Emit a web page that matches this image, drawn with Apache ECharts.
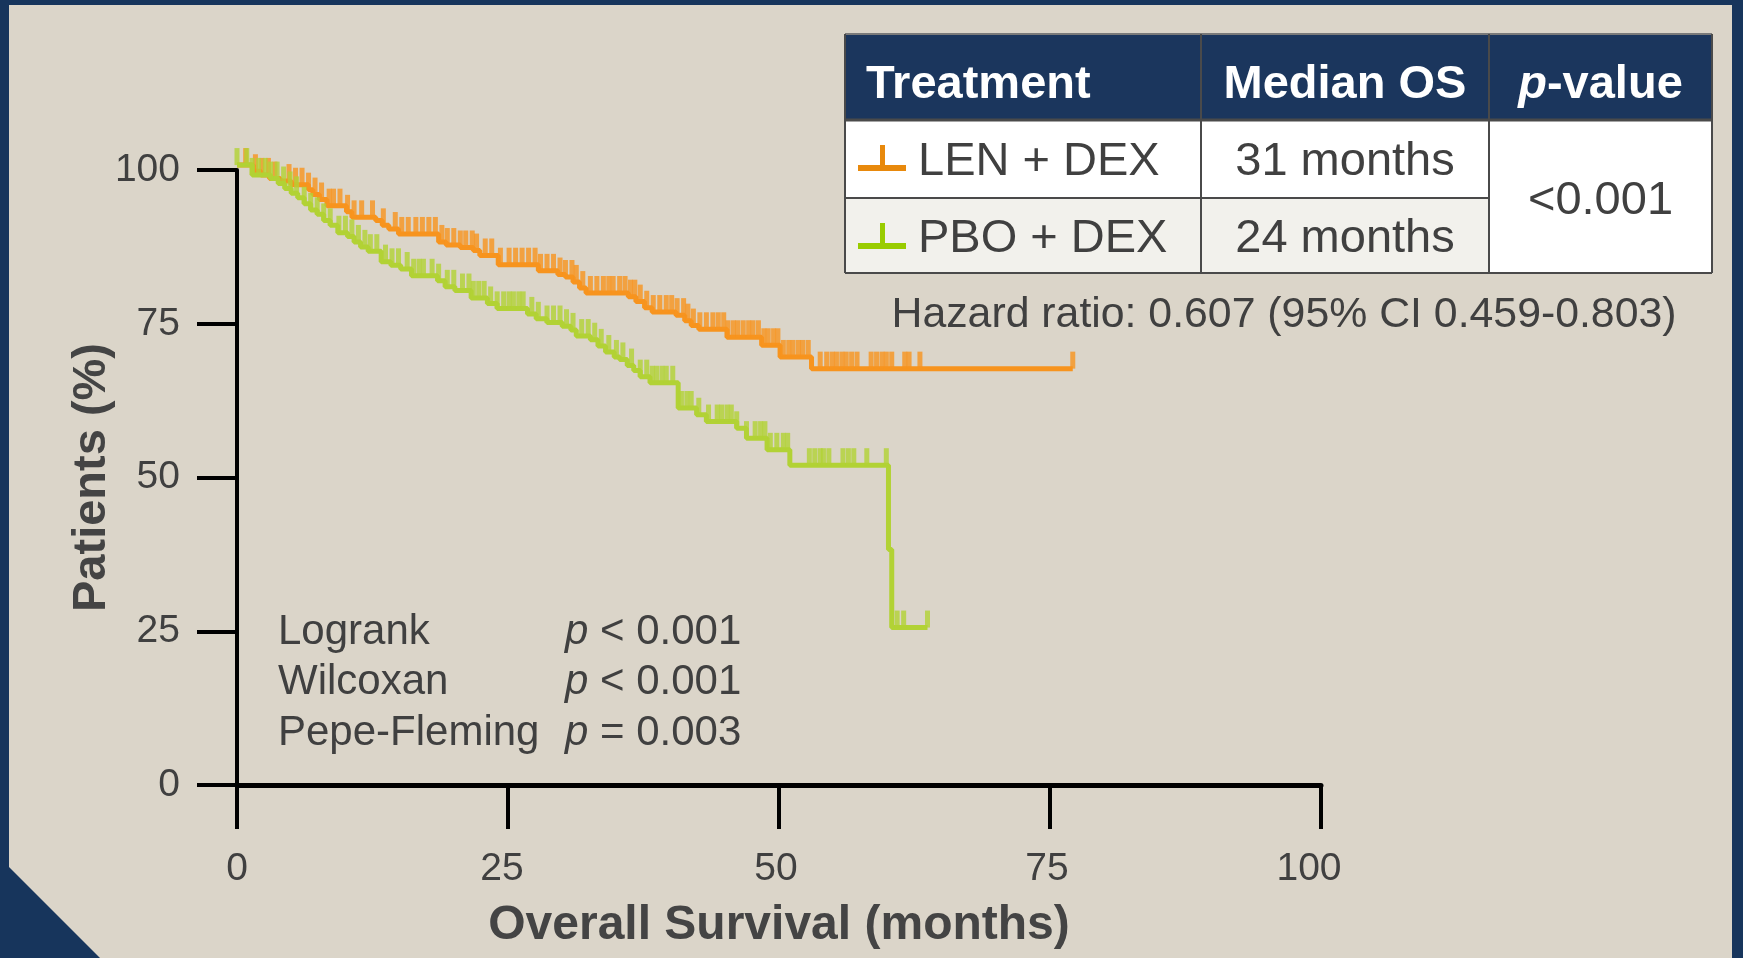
<!DOCTYPE html>
<html>
<head>
<meta charset="utf-8">
<script src="https://cdn.jsdelivr.net/npm/echarts@6/dist/echarts.min.js"></script>
<style>
html,body{margin:0;padding:0;background:#dbd5c9;}
#chart{width:1743px;height:958px;}
</style>
</head>
<body>
<div id="chart"></div>
<script>
// ---- Data (months, % surviving) ----
const xTicks = [0, 25, 50, 75, 100];
const yTicks = [0, 25, 50, 75, 100];

const lenSteps = [[0,100.8],[1.5,99.8],[2.2,99.2],[3.0,98.6],[4.0,98.2],[5.0,97.6],[6.6,96.8],[7.0,96.0],[7.6,95.2],[8.3,94.2],[10.1,93.2],[10.6,92.3],[12.8,91.8],[13.4,91.0],[14.0,90.4],[14.9,89.6],[18.6,88.3],[19.3,87.8],[20.6,87.4],[21.8,86.9],[22.4,86.1],[24.1,84.6],[27.8,83.6],[29.6,83.0],[30.3,82.6],[31.0,81.8],[31.6,80.8],[32.2,80.0],[36.1,79.4],[36.8,78.6],[37.6,77.6],[38.3,76.9],[40.5,76.4],[41.3,75.5],[41.9,74.7],[42.6,74.1],[45.2,72.8],[48.4,71.5],[50.1,69.6],[53.0,67.7],[77.1,67.7]];

const pboSteps = [[0,100.8],[1.4,99.2],[3.1,98.6],[3.8,97.8],[4.4,97.0],[5.0,96.2],[5.6,95.5],[6.2,94.5],[6.8,93.5],[7.4,92.8],[8.0,91.8],[8.6,91.0],[9.3,89.8],[10.2,89.2],[10.8,88.3],[11.4,87.5],[12.1,86.8],[13.3,85.1],[14.2,84.5],[15.1,83.9],[16.1,82.8],[18.5,82.0],[19.2,81.0],[20.1,80.4],[21.6,79.2],[23.1,78.3],[24.0,77.5],[26.8,76.6],[27.6,75.8],[28.6,75.2],[30.0,74.6],[30.8,74.0],[31.3,73.0],[32.6,72.4],[33.3,71.4],[34.0,70.4],[34.8,69.6],[35.3,69.2],[36.0,68.2],[36.6,67.4],[37.2,66.4],[38.1,65.4],[40.7,61.3],[42.4,60.2],[43.3,59.1],[46.1,58.0],[47.0,56.4],[48.9,54.5],[51.0,52.0],[60.1,38.3],[60.4,25.6],[63.7,25.6]];

const lenCensor = [0.8,1.7,2.3,2.9,3.5,4.8,5.4,6.0,6.6,7.2,7.8,8.5,8.9,9.5,10.2,10.8,11.5,12.5,13.5,14.6,15.2,15.8,16.5,17.1,17.7,18.3,18.9,19.4,20.0,20.6,21.1,21.7,22.1,22.9,23.5,24.3,25.1,25.7,26.3,26.9,27.5,28.0,28.6,29.2,29.8,30.3,30.9,31.3,31.9,32.6,33.2,33.8,34.3,34.7,35.3,35.8,36.3,36.7,37.2,37.8,38.4,39.0,39.6,40.1,40.6,41.2,41.6,42.1,42.7,43.3,43.9,44.4,44.9,45.3,45.8,46.2,46.7,47.2,47.6,48.1,48.6,49.0,49.5,49.9,50.4,50.9,51.3,51.8,52.2,52.7,53.8,54.4,54.9,55.3,55.8,56.2,56.7,57.2,58.5,59.0,59.5,59.9,60.4,61.6,62.0,63.0,77.1];

const pboCensor = [0,0.9,1.4,2.0,2.6,3.1,3.7,4.3,4.9,5.5,6.2,6.8,7.4,8.0,8.6,9.4,10.0,10.6,11.2,11.8,12.3,12.9,13.7,14.3,14.9,15.7,16.3,16.8,17.2,18.0,18.6,19.4,20.0,20.8,21.4,21.8,22.3,22.8,23.4,24.0,24.6,25.1,25.5,26.0,26.4,27.2,27.8,28.6,29.2,29.8,30.4,31.0,31.8,32.4,33.0,33.6,34.3,35.0,35.6,36.4,37.2,37.8,38.3,38.7,39.2,39.6,40.2,41.0,41.5,41.9,42.6,43.5,44.3,44.7,45.2,45.6,46.1,47.0,47.8,48.3,48.7,49.2,49.8,50.4,50.8,52.8,53.3,53.8,54.1,54.6,55.9,56.4,56.9,58.1,59.9,60.9,61.5,63.7];

const tableHeader = ['Treatment', 'Median OS', 'p-value'];
const treatments = ['LEN + DEX', 'PBO + DEX'];
const medians = ['31 months', '24 months'];
const pValue = '<0.001';
const hazardText = 'Hazard ratio: 0.607 (95% CI 0.459-0.803)';
const testNames = ['Logrank', 'Wilcoxan', 'Pepe-Fleming'];
const testValues = ['< 0.001', '< 0.001', '= 0.003'];

// ---- Styling ----
const FONT = '"Liberation Sans", Arial, Helvetica, sans-serif';
const NAVY = '#17355c';
const TXT = '#404040';
const ORANGE = '#f7941e';
const GREEN = '#b2d235';

function survAt(steps, t) {
  let v = steps[0][1];
  for (const s of steps) { if (s[0] <= t + 1e-9) v = s[1]; else break; }
  return v;
}

const lenCensorPts = lenCensor.map(t => [t, survAt(lenSteps, t)]);
const pboCensorPts = pboCensor.map(t => [t, survAt(pboSteps, t)]);

const chart = echarts.init(document.getElementById('chart'), null, {renderer: 'canvas'});

function txt(x, y, text, opts) {
  return {
    type: 'text', x: x, y: y, z: 100,
    style: Object.assign({
      text: text, fontFamily: FONT, fontSize: 47, fill: TXT,
      textAlign: 'left', align: 'left',
      textVerticalAlign: 'middle', verticalAlign: 'middle'
    }, opts || {})
  };
}

// Table geometry
const TL = 845, TR = 1712, C1 = 1201, C2 = 1489;
const RT = 34, RH = 120, R1 = 198, RB = 273;

const graphic = [
  // frame
  {type: 'rect', shape: {x: 0, y: 0, width: 1743, height: 5}, style: {fill: NAVY}, z: 90},
  {type: 'rect', shape: {x: 0, y: 0, width: 9, height: 958}, style: {fill: NAVY}, z: 90},
  {type: 'rect', shape: {x: 1732, y: 0, width: 11, height: 958}, style: {fill: NAVY}, z: 90},
  {type: 'polygon', shape: {points: [[0, 858], [9, 867], [100, 958], [0, 958]]}, style: {fill: NAVY}, z: 90},
  // table backgrounds
  {type: 'rect', shape: {x: TL, y: RT, width: TR - TL, height: RH - RT}, style: {fill: '#1b365d'}, z: 90},
  {type: 'rect', shape: {x: TL, y: RH, width: C2 - TL, height: R1 - RH}, style: {fill: '#ffffff'}, z: 90},
  {type: 'rect', shape: {x: TL, y: R1, width: C2 - TL, height: RB - R1}, style: {fill: '#f2f1ec'}, z: 90},
  {type: 'rect', shape: {x: C2, y: RH, width: TR - C2, height: RB - RH}, style: {fill: '#ffffff'}, z: 90},
  // table lines
  {type: 'line', shape: {x1: TL, y1: RT, x2: TR, y2: RT}, style: {stroke: '#7a7a7a', lineWidth: 2}, z: 95},
  {type: 'line', shape: {x1: TL, y1: RH, x2: TR, y2: RH}, style: {stroke: '#4a4a4a', lineWidth: 3}, z: 95},
  {type: 'line', shape: {x1: TL, y1: R1, x2: C2, y2: R1}, style: {stroke: '#4a4a4a', lineWidth: 2}, z: 95},
  {type: 'line', shape: {x1: TL, y1: RB, x2: TR, y2: RB}, style: {stroke: '#4a4a4a', lineWidth: 2}, z: 95},
  {type: 'line', shape: {x1: TL, y1: RT, x2: TL, y2: RB}, style: {stroke: '#4a4a4a', lineWidth: 2}, z: 95},
  {type: 'line', shape: {x1: TR, y1: RT, x2: TR, y2: RB}, style: {stroke: '#4a4a4a', lineWidth: 2}, z: 95},
  {type: 'line', shape: {x1: C1, y1: RT, x2: C1, y2: RB}, style: {stroke: '#4a4a4a', lineWidth: 2}, z: 95},
  {type: 'line', shape: {x1: C2, y1: RT, x2: C2, y2: RB}, style: {stroke: '#4a4a4a', lineWidth: 2}, z: 95},
  // header text
  txt(866, 85, tableHeader[0], {fill: '#ffffff', fontWeight: 'bold'}),
  txt((C1 + C2) / 2, 85, tableHeader[1], {fill: '#ffffff', fontWeight: 'bold', textAlign: 'center', align: 'center'}),
  txt((C2 + TR) / 2, 85, '{i|p}-value', {fill: '#ffffff', fontWeight: 'bold', textAlign: 'center', align: 'center',
      rich: {i: {fontStyle: 'italic', fontWeight: 'bold', fontSize: 47, fontFamily: FONT, fill: '#ffffff'}}}),
  // legend icons
  {type: 'rect', shape: {x: 858, y: 165, width: 48, height: 6}, style: {fill: '#e8890c'}, z: 96},
  {type: 'rect', shape: {x: 880, y: 145, width: 5, height: 24}, style: {fill: '#e8890c'}, z: 96},
  {type: 'rect', shape: {x: 858, y: 243, width: 48, height: 6}, style: {fill: '#99cc00'}, z: 96},
  {type: 'rect', shape: {x: 880, y: 223, width: 5, height: 24}, style: {fill: '#99cc00'}, z: 96},
  // body text
  txt(918, 162, treatments[0]),
  txt(918, 239, treatments[1]),
  txt((C1 + C2) / 2, 162, medians[0], {textAlign: 'center', align: 'center'}),
  txt((C1 + C2) / 2, 239, medians[1], {textAlign: 'center', align: 'center'}),
  txt((C2 + TR) / 2, 201, pValue, {textAlign: 'center', align: 'center'}),
  // hazard ratio
  txt(1284, 315, hazardText, {fontSize: 42.8, textAlign: 'center', align: 'center'})
];

const rowY = [632, 682, 733];
testNames.forEach((n, i) => {
  graphic.push(txt(278, rowY[i], n, {fontSize: 42}));
  graphic.push(txt(565, rowY[i], '{i|p} ' + testValues[i], {fontSize: 42,
    rich: {i: {fontStyle: 'italic', fontSize: 42, fontFamily: FONT, fill: TXT}}}));
});

// per-label horizontal nudges (right padding shifts centred label left by half)
const xLabelPad = {0: 0, 25: 12, 50: 6, 75: 6, 100: 24};
const xLabelRich = {};
Object.keys(xLabelPad).forEach(k => {
  xLabelRich['l' + k] = {fontFamily: FONT, fontSize: 39, color: TXT, lineHeight: 39, padding: [0, xLabelPad[k], 0, 0]};
});

const option = {
  backgroundColor: 'transparent',
  animation: false,
  grid: {left: 237, top: 170, width: 1084, height: 615, containLabel: false},
  xAxis: {
    type: 'value', min: xTicks[0], max: xTicks[xTicks.length - 1], interval: 25,
    name: 'Overall Survival (months)', nameLocation: 'middle', nameGap: 117, nameMoveOverlap: false,
    nameTextStyle: {fontFamily: FONT, fontSize: 48, fontWeight: 'bold', color: '#444444', lineHeight: 48},
    axisLine: {show: true, onZero: false, lineStyle: {color: '#000', width: 5}},
    axisTick: {show: true, inside: false, length: 44, lineStyle: {color: '#000', width: 4}},
    axisLabel: {margin: 65, fontFamily: FONT, fontSize: 39, color: TXT, lineHeight: 39,
      formatter: v => '{l' + v + '|' + v + '}', rich: xLabelRich},
    splitLine: {show: false}
  },
  yAxis: {
    type: 'value', min: yTicks[0], max: yTicks[yTicks.length - 1], interval: 25,
    name: 'Patients (%)', nameLocation: 'middle', nameGap: 121, nameRotate: 90, nameMoveOverlap: false,
    nameTextStyle: {fontFamily: FONT, fontSize: 47, fontWeight: 'bold', color: '#444444', lineHeight: 47},
    axisLine: {show: true, onZero: false, lineStyle: {color: '#000', width: 4}},
    axisTick: {show: true, inside: false, length: 40, lineStyle: {color: '#000', width: 4}},
    axisLabel: {margin: 57, fontFamily: FONT, fontSize: 39, color: TXT},
    splitLine: {show: false}
  },
  series: [
    {name: 'LEN + DEX', type: 'line', step: 'end', data: lenSteps, showSymbol: false, symbol: 'none',
     clip: false, lineStyle: {color: ORANGE, width: 5}, z: 3},
    {name: 'LEN + DEX censored', type: 'scatter', data: lenCensorPts, symbol: 'rect', symbolSize: [5, 17],
     symbolOffset: [0, -8.5], clip: false, itemStyle: {color: ORANGE}, z: 4},
    {name: 'PBO + DEX', type: 'line', step: 'end', data: pboSteps, showSymbol: false, symbol: 'none',
     clip: false, lineStyle: {color: GREEN, width: 5}, z: 5},
    {name: 'PBO + DEX censored', type: 'scatter', data: pboCensorPts, symbol: 'rect', symbolSize: [5, 17],
     symbolOffset: [0, -8.5], clip: false, itemStyle: {color: GREEN}, z: 6}
  ],
  graphic: graphic
};
chart.setOption(option);
</script>
</body>
</html>
